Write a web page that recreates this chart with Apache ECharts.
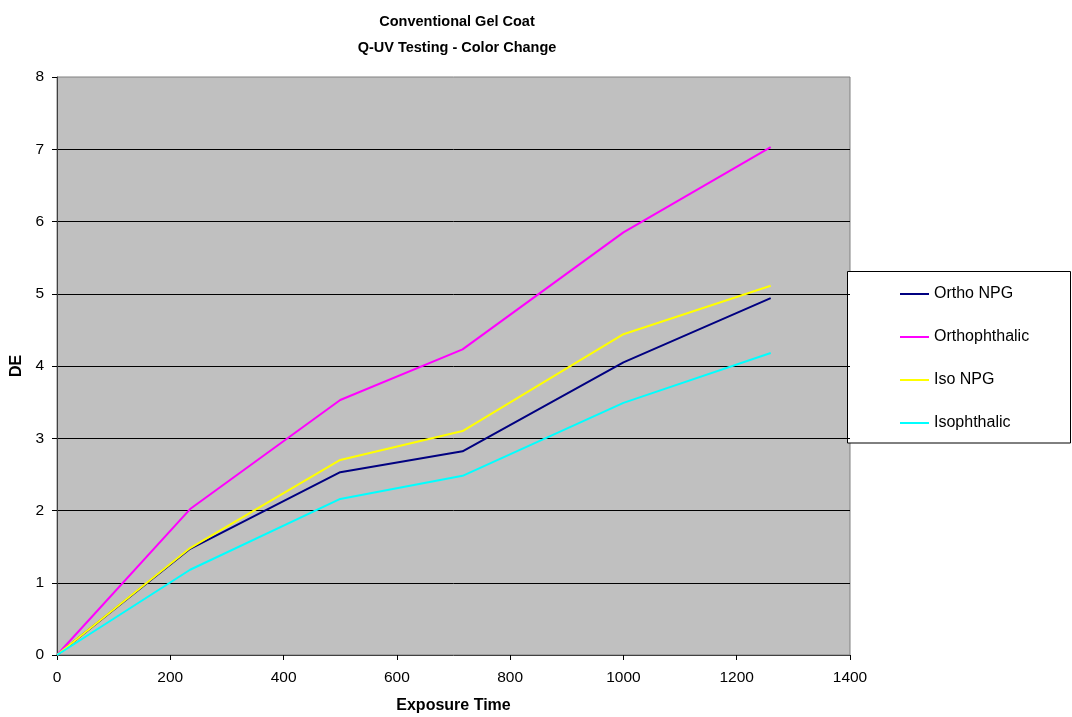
<!DOCTYPE html>
<html>
<head>
<meta charset="utf-8">
<script src="https://cdn.jsdelivr.net/npm/echarts@6/dist/echarts.min.js"></script>
<style>
html,body{margin:0;padding:0;background:#fff;}
#c{width:1072px;height:717px;}
</style>
</head>
<body>
<div id="c"></div>
<script>
const exposureTimes = [0, 235, 500, 716, 1000, 1260];
const orthoNPG = [0, 1.47, 2.53, 2.82, 4.05, 4.94];
const orthophthalic = [0, 2.02, 3.53, 4.23, 5.85, 7.03];
const isoNPG = [0, 1.48, 2.70, 3.10, 4.44, 5.11];
const isophthalic = [0, 1.18, 2.16, 2.48, 3.49, 4.18];
const seriesNames = ['Ortho NPG', 'Orthophthalic', 'Iso NPG', 'Isophthalic'];
const seriesColors = ['#000080', '#FF00FF', '#FFFF00', '#00FFFF'];
const seriesValues = [orthoNPG, orthophthalic, isoNPG, isophthalic];

const chart = echarts.init(document.getElementById('c'));
const font = 'Liberation Sans, Arial, sans-serif';

chart.setOption({
  animation: false,
  backgroundColor: '#ffffff',
  title: {
    text: 'Conventional Gel Coat\nQ-UV Testing - Color Change',
    left: 452,
    top: 4,
    textAlign: 'center',
    textStyle: { fontFamily: font, fontWeight: 'bold', fontSize: 14.5, lineHeight: 26, color: '#000' }
  },
  graphic: [{
    type: 'rect',
    shape: { x: 847.5, y: 271.5, width: 223, height: 171.5 },
    style: { fill: '#ffffff', stroke: '#000000', lineWidth: 1 },
    z: 0
  }],
  legend: {
    orient: 'vertical',
    left: 895,
    top: 281,
    icon: 'rect',
    itemWidth: 29,
    itemHeight: 2,
    itemGap: 27,
    textStyle: { fontFamily: font, fontSize: 16, lineHeight: 16, color: '#000' },
    data: seriesNames
  },
  grid: {
    left: 57, right: 222, top: 77, bottom: 62,
    containLabel: false,
    outerBoundsMode: 'none',
    show: true,
    backgroundColor: '#C0C0C0',
    borderColor: '#808080',
    borderWidth: 1
  },
  xAxis: {
    type: 'value',
    min: 0, max: 1400, interval: 200,
    name: 'Exposure Time',
    nameLocation: 'middle',
    nameGap: 43,
    nameTextStyle: { fontFamily: font, fontWeight: 'bold', fontSize: 16, color: '#000' },
    axisLine: { show: true, lineStyle: { color: '#404040', width: 1 } },
    axisTick: { show: true, length: 5, lineStyle: { color: '#000' } },
    axisLabel: { fontFamily: font, fontSize: 15.5, color: '#000', margin: 15, formatter: v => String(v) },
    splitLine: { show: false }
  },
  yAxis: {
    type: 'value',
    min: 0, max: 8, interval: 1,
    name: 'DE',
    nameLocation: 'middle',
    nameGap: 32,
    nameTextStyle: { fontFamily: font, fontWeight: 'bold', fontSize: 16, color: '#000' },
    axisLine: { show: true, lineStyle: { color: '#404040', width: 1 } },
    axisTick: { show: true, length: 5, lineStyle: { color: '#000' } },
    axisLabel: { fontFamily: font, fontSize: 15.5, color: '#000', margin: 13 },
    splitLine: { show: true, showMinLine: false, showMaxLine: false, lineStyle: { color: '#000', width: 1 } }
  },
  series: seriesNames.map((name, i) => ({
    name: name,
    type: 'line',
    symbol: 'none',
    color: seriesColors[i],
    lineStyle: { color: seriesColors[i], width: 2 },
    data: exposureTimes.map((t, j) => [t, seriesValues[i][j]])
  }))
});
</script>
</body>
</html>
